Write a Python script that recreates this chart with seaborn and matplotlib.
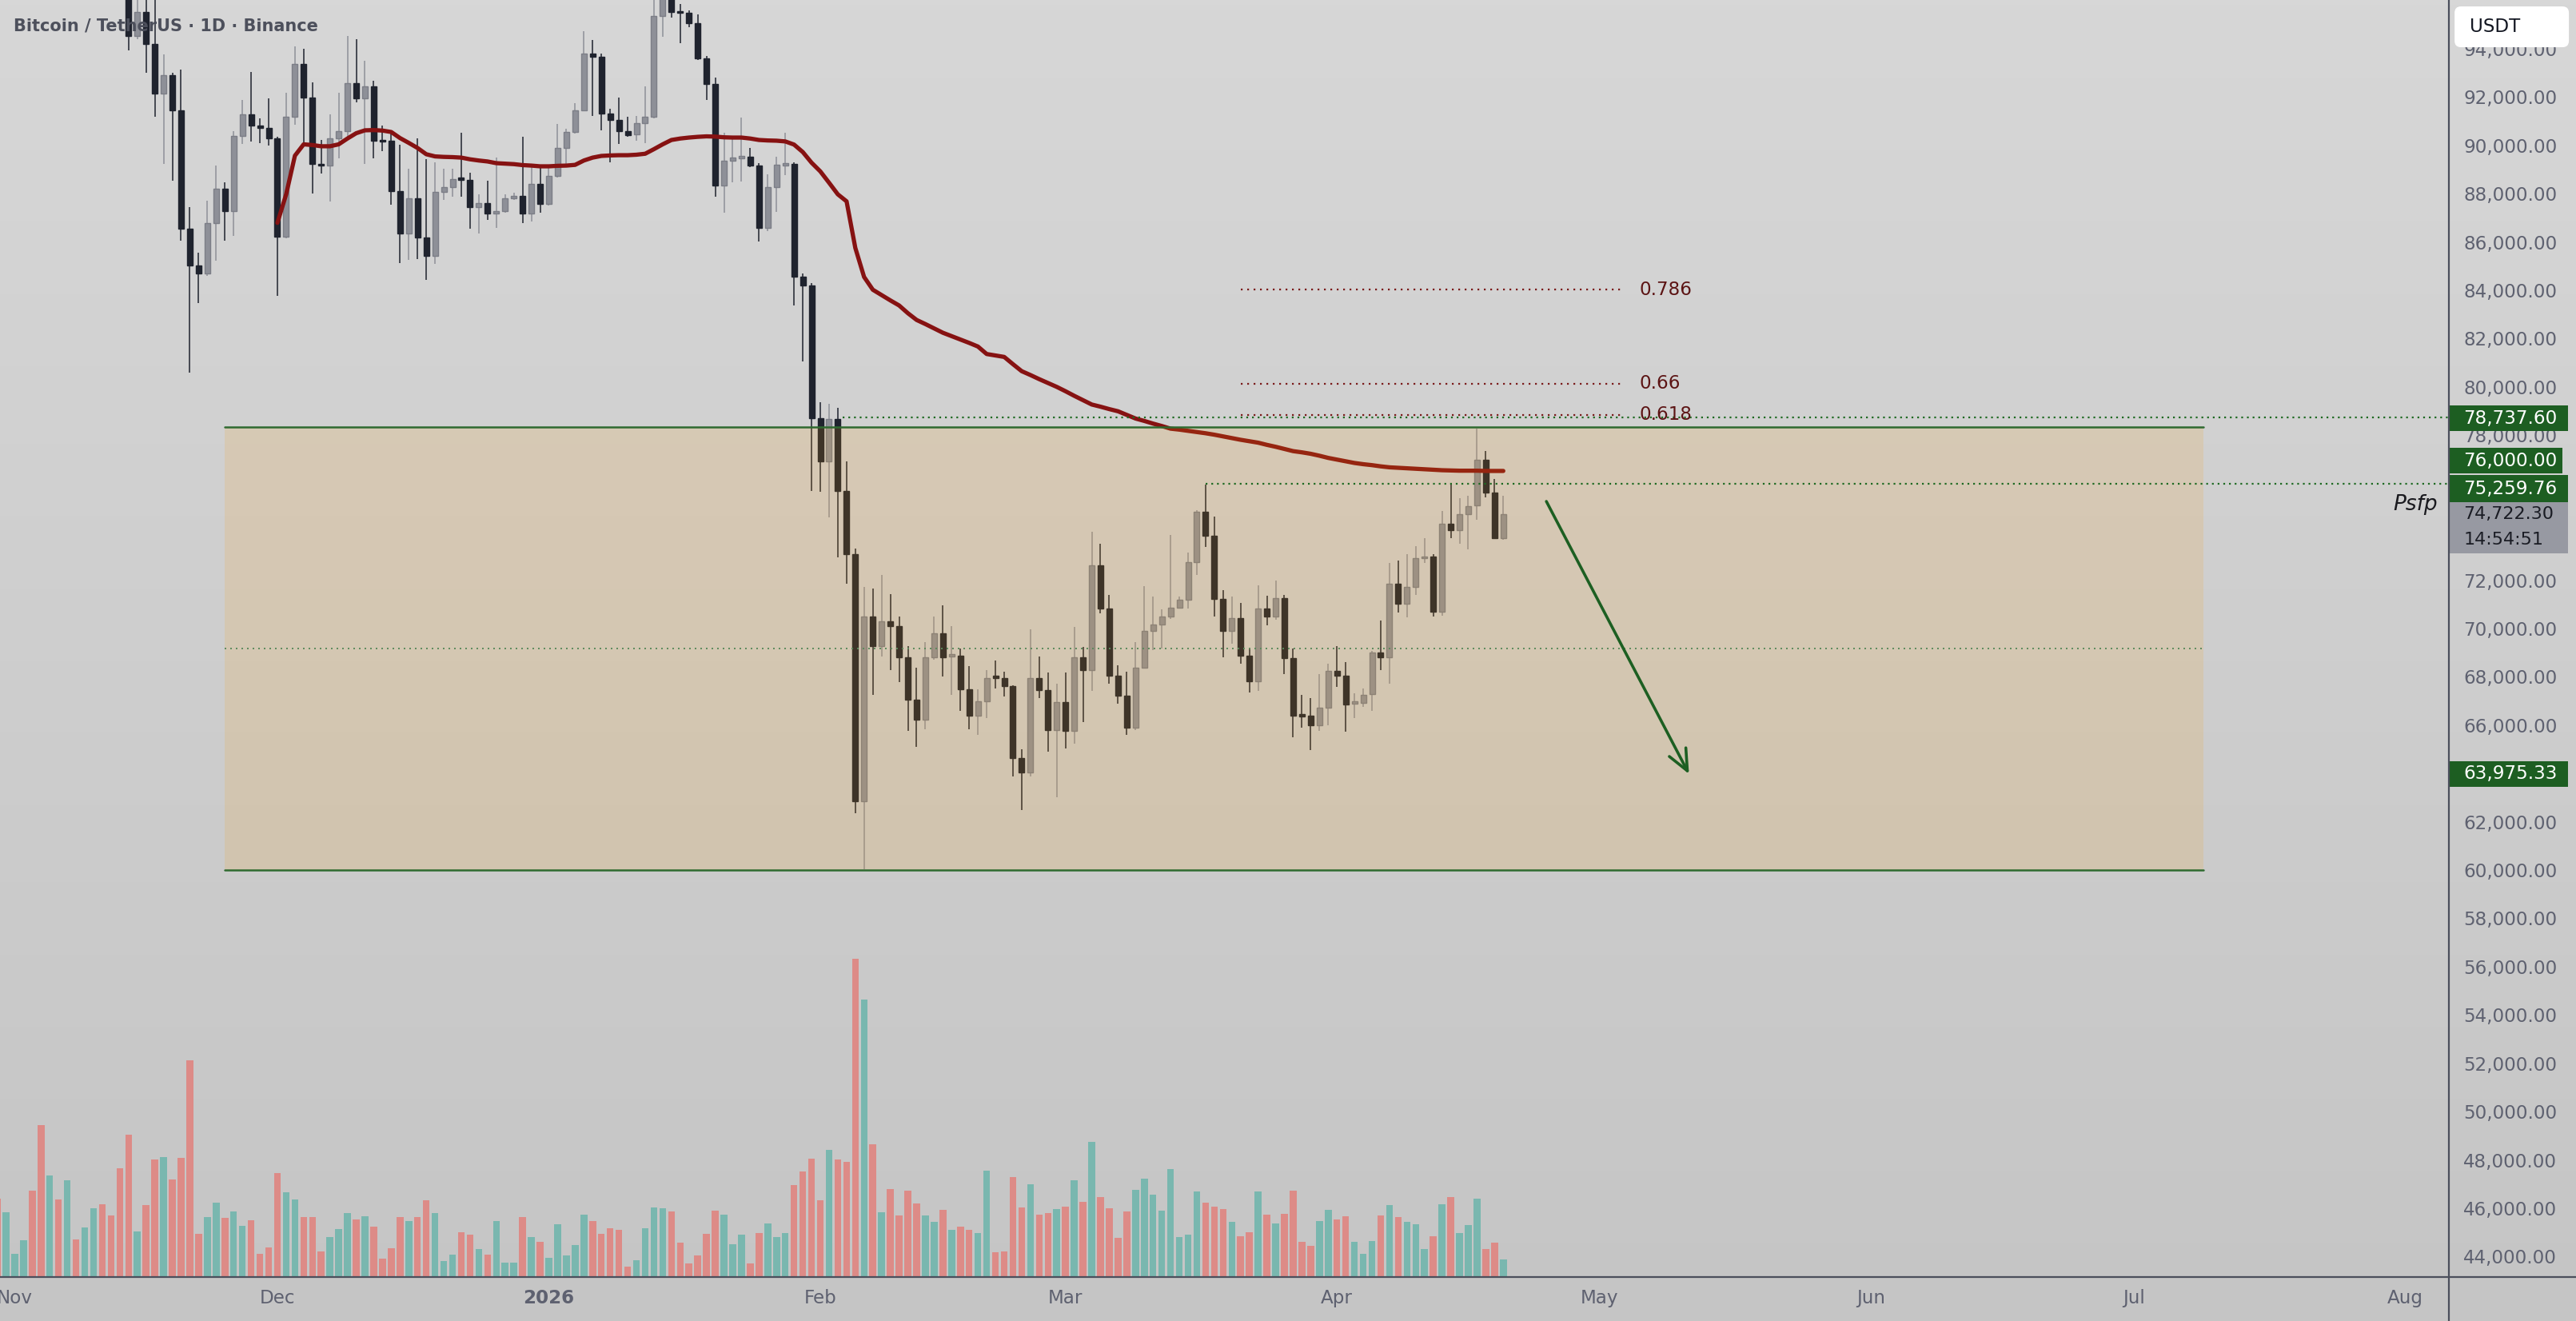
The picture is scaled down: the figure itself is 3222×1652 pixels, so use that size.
import numpy as np
import pandas as pd
import matplotlib
matplotlib.use('Agg')
import matplotlib.pyplot as plt
import matplotlib.dates as mdates
from matplotlib.colors import LinearSegmentedColormap
from matplotlib.patches import Rectangle, FancyBboxPatch
from matplotlib.lines import Line2D
import seaborn as sns

sns.set_style('white')
plt.rcParams['font.family'] = ['DejaVu Sans']

# ---- daily candles BTC/USDT, from 2025-11-14 (earlier days sit above the visible range)
candle_start = '2025-11-14'
opens = [99700, 94510, 95520, 94180, 92140, 92900, 91460, 86560, 85040, 84690,
         86770, 88210, 87290, 90400, 91280, 90810, 90730, 90280, 86200, 91190,
         93350, 91990, 89240, 89160, 90300, 90580, 92580, 91930, 92430, 90220,
         90190, 88090, 86360, 87800, 86180, 85430, 88060, 88270, 88630, 88570,
         87440, 87600, 87170, 87290, 87800, 87890, 87170, 88390, 87560, 88740,
         89900, 90540, 91460, 93790, 93650, 91310, 91050, 90580, 90460, 90930,
         91190, 95340, 97200, 95540, 95490, 95070, 93590, 92550, 88350, 89370,
         89490, 89530, 89160, 86590, 88270, 89180, 89220, 84570, 84190, 78690,
         76900, 78680, 75700, 73080, 62860, 70510, 69260, 70280, 70100, 68790,
         67050, 66220, 68790, 69790, 68860, 68860, 67470, 66400, 66970, 67997,
         67940, 67610, 64630, 64040, 67940, 67440, 65810, 66960, 65750, 68790,
         68290, 72610, 70830, 68060, 67210, 65900, 68390, 69890, 70160, 70480,
         70870, 71190, 72760, 74820, 73850, 71210, 69890, 70440, 68860, 67800,
         70830, 70500, 71270, 68770, 66430, 66380, 65990, 66730, 68230, 68060,
         66910, 66910, 67290, 69000, 68790, 71860, 71010, 71720, 72900, 72990,
         70680, 74340, 74080, 74730, 75090, 76980, 75640, 73750]
highs = [99900, 96800, 96600, 96050, 93770, 93000, 93120, 87440, 85550, 87700,
         89160, 88470, 90580, 91880, 93030, 91130, 91930, 90360, 92190, 94100,
         94000, 92620, 90220, 91280, 92190, 94510, 94390, 93490, 92670, 90810,
         90610, 90020, 89040, 90280, 89430, 89310, 89040, 89040, 90520, 88860,
         87980, 88540, 89490, 87980, 88030, 90340, 89160, 89060, 89070, 90870,
         90670, 91760, 94710, 94360, 93790, 91520, 91990, 91170, 91230, 92430,
         96200, 97900, 97500, 95840, 95600, 95420, 93700, 92800, 90520, 90360,
         91140, 89890, 89250, 88800, 89510, 90520, 89300, 84690, 84290, 79350,
         79290, 79130, 76900, 73300, 71720, 71650, 72220, 71420, 70480, 69270,
         68380, 69440, 70510, 70950, 70100, 69180, 68450, 67470, 68290, 68680,
         68200, 67640, 65010, 69970, 68850, 68170, 67730, 68170, 70070, 69240,
         74000, 73490, 71390, 68490, 68200, 69450, 71760, 71310, 70800, 73870,
         71310, 73140, 74880, 75950, 74620, 71600, 71310, 71050, 69200, 71780,
         71370, 71980, 71390, 69180, 67260, 67110, 68120, 68530, 69270, 68610,
         67320, 67500, 69060, 70340, 72700, 72810, 73080, 73400, 73730, 73080,
         74850, 75950, 75380, 75480, 78280, 77360, 76180, 75500]
lows = [93940, 94400, 93000, 91170, 89220, 88540, 86060, 80580, 83460, 84600,
        85230, 86060, 86260, 90040, 90140, 90100, 90000, 83780, 86140, 90850,
        89960, 88010, 88840, 87680, 89450, 90220, 91780, 89220, 89450, 89750,
        87530, 85110, 85260, 85280, 84430, 85080, 87740, 87860, 87860, 86560,
        86360, 86910, 86590, 87210, 87740, 86770, 86850, 87210, 87500, 88680,
        89220, 90490, 91400, 91200, 90630, 89280, 90040, 90340, 90190, 90100,
        91100, 94500, 95300, 94240, 94900, 93530, 91880, 87860, 87210, 88480,
        88510, 89100, 86020, 86460, 87240, 88780, 83360, 81060, 75700, 75670,
        74590, 72930, 71860, 62340, 60050, 67260, 68850, 68290, 67780, 65750,
        65100, 65830, 68700, 68000, 67260, 66580, 65830, 65610, 66280, 67520,
        67170, 63880, 62500, 63880, 67110, 64900, 63030, 65040, 65240, 66130,
        67410, 70620, 67730, 66870, 65610, 65810, 68350, 69120, 69180, 70380,
        70860, 70830, 72230, 73380, 70480, 68790, 69360, 68550, 67350, 67410,
        70120, 70360, 68120, 65510, 65900, 64980, 65750, 65990, 67580, 65730,
        66280, 66760, 66600, 68290, 67730, 70660, 70460, 71390, 72700, 70480,
        70540, 73750, 73490, 73290, 74500, 75410, 73710, 73670]
closes = [94510, 95520, 94180, 92140, 92900, 91460, 86560, 85040, 84690, 86770,
          88210, 87290, 90400, 91280, 90810, 90730, 90280, 86200, 91190, 93350,
          91990, 89240, 89160, 90300, 90580, 92580, 91930, 92430, 90190, 90160,
          88090, 86360, 87800, 86180, 85430, 88060, 88270, 88590, 88590, 87440,
          87600, 87170, 87290, 87800, 87890, 87170, 88390, 87560, 88740, 89900,
          90540, 91460, 93790, 93650, 91310, 91050, 90580, 90430, 90930, 91190,
          95340, 97200, 95520, 95490, 95070, 93590, 92550, 88350, 89370, 89480,
          89530, 89160, 86590, 88270, 89180, 89250, 84570, 84190, 78690, 76900,
          78680, 75700, 73080, 62860, 70510, 69260, 70280, 70100, 68790, 67050,
          66220, 68790, 69790, 68790, 68910, 67470, 66400, 66970, 67960, 67970,
          67610, 64630, 64040, 67940, 67440, 65810, 66960, 65750, 68790, 68290,
          72610, 70830, 68060, 67210, 65900, 68390, 69890, 70160, 70480, 70870,
          71190, 72760, 74820, 73850, 71210, 69890, 70440, 68860, 67800, 70830,
          70500, 71270, 68770, 66380, 66380, 65990, 66730, 68230, 68060, 66840,
          66960, 67260, 69000, 68790, 71860, 71010, 71720, 72900, 72990, 70680,
          74340, 74080, 74730, 75070, 76980, 75640, 73750, 74722.3]

# ---- volume (relative units), from 2025-10-30
volume_start = '2025-10-30'
volumes = [98, 81, 29, 46, 108, 190, 127, 97, 121, 47, 62, 86, 91, 77, 136,
           178, 57, 90, 147, 150, 122, 149, 271, 54, 75, 93, 74, 82, 64, 71, 29, 37,
           130, 106, 97, 75, 75, 32, 50, 60, 80, 72, 76, 63, 23, 36, 75, 70, 75, 96,
           80, 20, 28, 56, 53, 35, 28, 70, 18, 18, 75, 50, 44,
           24, 66, 27, 40, 78, 70, 54, 61, 59, 13, 21, 61, 87, 86, 82, 43, 17, 27,
           54, 83, 78, 41, 53, 17, 55, 67, 50, 55, 115, 132, 148,
           96, 159, 147, 144, 398, 347, 166, 81, 110, 77, 108, 92, 77, 69, 84, 59,
           63, 59, 55, 133, 31, 32, 125, 87, 116, 78, 80, 85,
           88, 121, 94, 169, 100, 86, 49, 82, 109, 123, 103, 83, 135, 50, 53, 107,
           93, 88, 85, 69, 51, 56, 107, 78, 67, 79, 108, 44, 39, 70, 84,
           72, 76, 44, 29, 45, 77, 90, 75, 69, 66, 35, 51, 91, 100, 55, 65, 98, 35, 43, 22]
# up/down days before the first visible candle
early_up = [0, 1, 1, 1, 0, 0, 1, 0, 1, 0, 1, 1, 0, 0, 0]

# ---- moving average line, from 2025-12-01
ma_start = '2025-12-01'
ma_values = [86790, 87970, 89570, 90040, 90010, 89960, 89960, 90040, 90280, 90500,
             90620, 90630, 90610, 90550, 90300, 90100, 89890, 89630, 89540, 89520,
             89510, 89490, 89420, 89370, 89330, 89260, 89240, 89220, 89180, 89160,
             89130, 89130, 89150, 89160, 89190, 89370, 89490, 89560, 89580, 89590,
             89590, 89610, 89650, 89840, 90040, 90220, 90280, 90320, 90350, 90370,
             90360, 90330, 90320, 90320, 90280, 90220, 90200, 90190, 90160, 90030,
             89720, 89280, 88920, 88450, 87970, 87680, 85750, 84550, 84020, 83800,
             83580, 83370, 83050, 82770, 82600, 82420, 82240, 82100, 81960, 81820,
             81670, 81360, 81300, 81240, 80940, 80650, 80490, 80320, 80160, 80000,
             79820, 79630, 79450, 79270, 79180, 79080, 78990, 78840, 78690, 78590,
             78480, 78380, 78270, 78230, 78180, 78130, 78080, 78020, 77950, 77880,
             77810, 77750, 77690, 77600, 77520, 77430, 77340, 77290, 77230, 77150,
             77060, 76990, 76920, 76850, 76800, 76760, 76710, 76670, 76650, 76630,
             76610, 76590, 76570, 76550, 76540, 76530, 76530, 76530, 76520, 76520,
             76520]

# ---- drawings
range_top, range_bottom = 78340, 60000
range_from, range_to = '2025-11-25', '2026-07-09'
level_hi, level_hi_from = 78737.60, '2026-02-03 14:00'
level_mid, level_mid_from = 76000.00, '2026-03-17'
fib_labels = ['0.786', '0.66', '0.618']
fib_levels = [84020, 80140, 78840]
fib_from, fib_to, fib_text_at = '2026-03-21', '2026-05-03 21:00', '2026-05-05 12:00'
arrow_from = ('2026-04-24 22:00', 75259.76)
arrow_to = ('2026-05-11 05:00', 63975.33)
last_price, countdown = 74722.30, '14:54:51'
month_ticks = ['2025-11-01', '2025-12-01', '2026-01-01', '2026-02-01', '2026-03-01',
               '2026-04-01', '2026-05-01', '2026-06-01', '2026-07-01', '2026-08-01']
month_labels = ['Nov', 'Dec', '2026', 'Feb', 'Mar', 'Apr', 'May', 'Jun', 'Jul', 'Aug']
price_ticks = list(range(44000, 96000, 2000))
# grid prices that sit under a price label box on the scale
covered_ticks = [64000, 74000, 76000]


def xd(s):
    return mdates.date2num(pd.Timestamp(s))


o = np.array(opens, float); h = np.array(highs, float)
l = np.array(lows, float); c = np.array(closes, float)
cx = mdates.date2num(pd.date_range(candle_start, periods=len(o)))
vx = mdates.date2num(pd.date_range(volume_start, periods=len(volumes)))
mx = mdates.date2num(pd.date_range(ma_start, periods=len(ma_values)))
up = c >= o
vol_up = np.concatenate([np.array(early_up, bool), up])
vols = np.array(volumes, float)

bear = '#1f232e'
bull = '#8e9098'
bull_edge = '#7c7e87'
tick_col = '#5e6170'

fig = plt.figure(figsize=(16.11, 8.26), dpi=200)
bg = fig.add_axes([0, 0, 1, 1], zorder=-10)
bg.imshow(np.linspace(0, 1, 256).reshape(-1, 1), aspect='auto', origin='upper',
          cmap=LinearSegmentedColormap.from_list('bg', ['#d7d7d7', '#c5c5c5']),
          extent=[0, 1, 0, 1])
bg.axis('off')

pos = [0, 0.0333, 0.9507, 0.9667]
x0 = xd('2026-01-01')
xlim = (x0 - 62.68, x0 + 217.0)
ylim = (43154, 96014)

ax_v = fig.add_axes(pos, zorder=1)
ax_v.patch.set_visible(False)
ax_v.bar(vx[vol_up], vols[vol_up], width=0.78, color='#79b7af', edgecolor='none',
         linewidth=0, zorder=2)
ax_v.bar(vx[~vol_up], vols[~vol_up], width=0.78, color='#dd8b87', edgecolor='none',
         linewidth=0, zorder=2)
ax_v.set_xlim(*xlim)
ax_v.set_ylim(0, 1597)
ax_v.axis('off')

ax = fig.add_axes(pos, zorder=2)
ax.patch.set_visible(False)

# candles
mid = (o + c) / 2
bh = np.maximum(np.abs(c - o), 90)
ax.vlines(cx[up], l[up], h[up], color=bull, lw=0.55, zorder=3)
ax.vlines(cx[~up], l[~up], h[~up], color=bear, lw=0.55, zorder=3)
ax.bar(cx[up], bh[up], bottom=mid[up] - bh[up] / 2, width=0.64, color=bull,
       edgecolor=bull_edge, linewidth=0.5, zorder=4)
ax.bar(cx[~up], bh[~up], bottom=mid[~up] - bh[~up] / 2, width=0.64, color=bear,
       edgecolor=bear, linewidth=0.5, zorder=4)

sns.lineplot(x=mx, y=ma_values, ax=ax, color='#861212', linewidth=1.9, zorder=5)

# range box
rx0, rx1 = xd(range_from), xd(range_to)
ax.add_patch(Rectangle((rx0, range_bottom), rx1 - rx0, range_top - range_bottom,
                       facecolor='#fb9d0a', alpha=0.14, edgecolor='none', zorder=6))
ax.plot([rx0, rx1], [range_top, range_top], color='#2f6a30', lw=0.9, zorder=7)
ax.plot([rx0, rx1], [range_bottom, range_bottom], color='#2f6a30', lw=0.9, zorder=7)
rmid = (range_top + range_bottom) / 2
ax.plot([rx0, rx1], [rmid, rmid], color='#5b8a5b', lw=0.7, ls=(0, (1, 2.6)), zorder=7)

# horizontal levels
ax.plot([xd(level_hi_from), xlim[1] + 5], [level_hi, level_hi], color='#1e6a22',
        lw=0.8, ls=(0, (1, 2.2)), zorder=7)
ax.plot([xd(level_mid_from), xlim[1] + 5], [level_mid, level_mid], color='#1e6a22',
        lw=0.8, ls=(0, (1, 2.2)), zorder=7)
for lab, lv in zip(fib_labels, fib_levels):
    ax.plot([xd(fib_from), xd(fib_to)], [lv, lv], color='#7a1b1b', lw=0.8,
            ls=(0, (1, 2.6)), zorder=7)
    ax.text(xd(fib_text_at), lv, lab, ha='left', va='center', fontsize=8.3,
            color='#5c1414', zorder=8)

ax.annotate('', xy=(xd(arrow_to[0]), arrow_to[1]), xytext=(xd(arrow_from[0]), arrow_from[1]),
            arrowprops=dict(arrowstyle='->,head_length=0.95,head_width=0.42',
                            color='#1d5f22', lw=1.3, mutation_scale=10,
                            shrinkA=0, shrinkB=0), zorder=8)
ax.text(0.9953, 75128, 'Psfp', transform=ax.get_yaxis_transform(), ha='right',
        va='center', fontsize=9.5, style='italic', color='#1a1a1f', zorder=8)

ax.set_xlim(*xlim)
ax.set_ylim(*ylim)
ax.yaxis.tick_right()
ax.set_yticks(price_ticks)
ax.set_yticklabels(['' if p in covered_ticks else f'{p:,.2f}' for p in price_ticks])
ax.set_xticks([xd(m) for m in month_ticks])
ax.set_xticklabels(month_labels)
ax.tick_params(axis='y', length=0, pad=6.5, labelsize=8.3, labelcolor=tick_col)
ax.tick_params(axis='x', length=0, pad=5.5, labelsize=8.3, labelcolor=tick_col)
for t in ax.get_xticklabels():
    if t.get_text() == '2026':
        t.set_fontweight('bold')
ax.set_xlabel('')
ax.set_ylabel('')
for s in ax.spines.values():
    s.set_visible(False)

# price scale labels
lab = fig.add_axes([0.9507, 0.0333, 0.0493, 0.9667], zorder=5)
lab.set_xlim(0, 1)
lab.set_ylim(*ylim)
lab.axis('off')
green = '#1d5e22'
for y0, y1, right, txt in [(78166, 79226, 0.937, '78,737.60'),
                           (76407, 77466, 0.893, '76,000.00'),
                           (75225, 76337, 0.937, '75,259.76'),
                           (63435, 64515, 0.937, '63,975.33')]:
    lab.add_patch(Rectangle((0, y0), right, y1 - y0, facecolor=green, edgecolor='none'))
    lab.text(0.113, (y0 + y1) / 2, txt, ha='left', va='center', fontsize=8.3, color='white')
lab.add_patch(Rectangle((0, 73100), 0.937, 75225 - 73100, facecolor='#9799a2', edgecolor='none'))
lab.text(0.113, 74720, f'{last_price:,.2f}', ha='left', va='center', fontsize=8.0, color='#1a1c24')
lab.text(0.113, 73680, countdown, ha='left', va='center', fontsize=8.0, color='#1a1c24')
lab.add_patch(FancyBboxPatch((0.044, 94059), 0.9, 95748 - 94059,
                             boxstyle='round,pad=0,rounding_size=0.05',
                             mutation_aspect=5263, facecolor='white', edgecolor='none'))
lab.text(0.165, 94919, 'USDT', ha='left', va='center', fontsize=8.3, color='#131722')

fig.add_artist(Line2D([0.9507, 0.9507], [0, 1], transform=fig.transFigure,
                      color='#4b4f5c', lw=0.8, zorder=10))
fig.add_artist(Line2D([0, 1], [0.0333, 0.0333], transform=fig.transFigure,
                      color='#4b4f5c', lw=0.8, zorder=10))

fig.text(0.0054, 0.9806, 'Bitcoin / TetherUS · 1D · Binance', ha='left', va='center',
         fontsize=7.5, fontweight='bold', color='#4d505c', zorder=20)

fig.savefig('out.png', dpi=200)
